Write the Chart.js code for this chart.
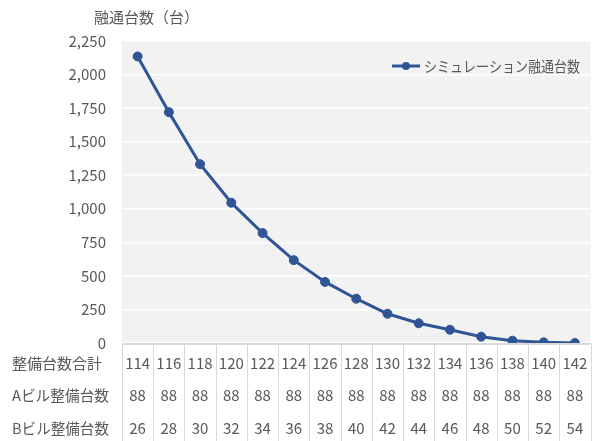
<!DOCTYPE html>
<html lang="ja">
<head>
<meta charset="utf-8">
<script src="https://cdn.jsdelivr.net/npm/chart.js@4/dist/chart.umd.min.js"></script>
<style>
  html, body { margin: 0; padding: 0; background: #ffffff; }
  #wrap { width: 596px; height: 441px; }
</style>
</head>
<body>
<div id="wrap"><canvas id="c" width="596" height="441"></canvas></div>
<script>
// Total parking spaces per scenario (category labels / first table row)
const totals = ['114', '116', '118', '120', '122', '124', '126', '128', '130', '132', '134', '136', '138', '140', '142'];
// Spaces in building A
const aCounts = ['88', '88', '88', '88', '88', '88', '88', '88', '88', '88', '88', '88', '88', '88', '88'];
// Spaces in building B
const bCounts = ['26', '28', '30', '32', '34', '36', '38', '40', '42', '44', '46', '48', '50', '52', '54'];
// Simulated shared-use count
const sharedCounts = [2135, 1720, 1332, 1045, 819, 617, 455, 330, 218, 147, 99, 47, 17, 5, 0];
// Table row headings
const rowHeaders = ['整備台数合計', 'Aビル整備台数', 'Bビル整備台数'];
const seriesName = 'シミュレーション融通台数';
const axisTitle = '融通台数（台）';

const FONT = '"Noto Sans CJK JP", "Noto Sans", sans-serif';
const TEXT = '#595959';
const LINE = '#2F5597';

const decorations = {
  id: 'decorations',
  beforeDraw(chart) {
    const { ctx, chartArea: a } = chart;
    ctx.save();
    ctx.fillStyle = '#F2F2F2';
    ctx.fillRect(a.left, a.top, a.right - a.left, a.bottom - a.top);
    ctx.restore();
  },
  afterDraw(chart) {
    const { ctx, chartArea: a, scales } = chart;
    const x = scales.x;
    ctx.save();

    // axis title
    ctx.font = '15px ' + FONT;
    ctx.fillStyle = TEXT;
    ctx.textAlign = 'left';
    ctx.textBaseline = 'middle';
    ctx.fillText(axisTitle, 94, 17);

    // legend
    const ly = 66;
    ctx.strokeStyle = LINE;
    ctx.lineWidth = 3;
    ctx.beginPath();
    ctx.moveTo(392, ly);
    ctx.lineTo(420, ly);
    ctx.stroke();
    ctx.fillStyle = LINE;
    ctx.beginPath();
    ctx.arc(406, ly, 4, 0, Math.PI * 2);
    ctx.fill();
    ctx.fillStyle = TEXT;
    ctx.fillText(seriesName, 424, ly, 156);

    // data table under the plot
    const half = (x.getPixelForValue(1) - x.getPixelForValue(0)) / 2;
    ctx.strokeStyle = '#D9D9D9';
    ctx.lineWidth = 1;
    for (let i = 0; i <= totals.length; i++) {
      const px = Math.round(x.getPixelForValue(i) - half) + 0.5;
      ctx.beginPath();
      ctx.moveTo(px, a.bottom);
      ctx.lineTo(px, chart.height);
      ctx.stroke();
    }
    ctx.lineWidth = 2;
    ctx.beginPath();
    ctx.moveTo(a.left, a.bottom + 1);
    ctx.lineTo(a.right, a.bottom + 1);
    ctx.stroke();

    const rows = [totals, aCounts, bCounts];
    const rowY = [363, 395.5, 428];
    ctx.font = '15px ' + FONT;
    ctx.fillStyle = TEXT;
    rows.forEach((row, r) => {
      ctx.textAlign = 'left';
      ctx.fillText(rowHeaders[r], 12, rowY[r], 97);
      ctx.textAlign = 'center';
      row.forEach((v, i) => ctx.fillText(v, x.getPixelForValue(i), rowY[r]));
    });
    ctx.restore();
  }
};

new Chart(document.getElementById('c'), {
  type: 'line',
  data: {
    labels: totals,
    datasets: [{
      label: seriesName,
      data: sharedCounts,
      borderColor: LINE,
      backgroundColor: LINE,
      borderWidth: 3,
      pointRadius: 4.5,
      pointBorderWidth: 1,
      pointBackgroundColor: LINE,
      pointBorderColor: LINE,
      tension: 0
    }]
  },
  options: {
    responsive: false,
    animation: false,
    devicePixelRatio: 1,
    layout: { padding: { top: 41, right: 4, left: 0, bottom: 0 } },
    plugins: { legend: { display: false }, title: { display: false }, tooltip: { enabled: false } },
    scales: {
      x: {
        type: 'category',
        offset: true,
        grid: { display: false },
        border: { display: false },
        ticks: { display: false },
        afterFit(s) { s.height = 98; }
      },
      y: {
        min: 0,
        max: 2250,
        ticks: {
          stepSize: 250,
          color: TEXT,
          font: { family: FONT, size: 15 },
          padding: 16,
          callback: v => v.toLocaleString('en-US')
        },
        grid: { color: '#FFFFFF', lineWidth: 1.5, drawTicks: false },
        border: { display: false },
        afterFit(s) { s.width = 122; }
      }
    }
  },
  plugins: [decorations]
});
</script>
</body>
</html>
